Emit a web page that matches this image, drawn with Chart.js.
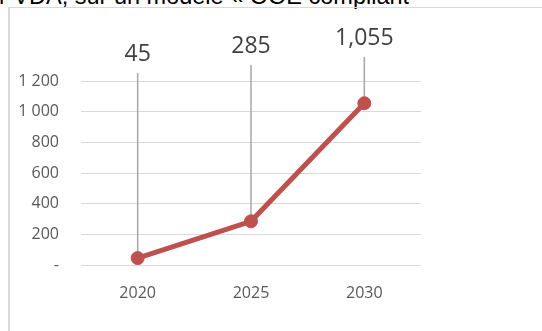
<!DOCTYPE html>
<html>
<head>
<meta charset="utf-8">
<script src="https://cdn.jsdelivr.net/npm/chart.js@4"></script>
<style>
  html, body { margin: 0; padding: 0; background: #fff; }
  body { width: 542px; height: 331px; position: relative; overflow: hidden; }
  #caption {
    position: absolute; left: -1px; top: -15px;
    font: 23.5px "Liberation Sans", Arial, sans-serif; line-height: 23.5px;
    color: #000; white-space: nowrap;
  }
  #box {
    position: absolute; left: 8px; top: 7px; width: 540px; height: 330px;
    border-left: 2px solid #d9d9d9; border-top: 1px solid #d9d9d9;
  }
  canvas { display: block; }
</style>
</head>
<body>
<div id="caption">r VDA, sur un modèle « OOE compliant</div>
<div id="box"><canvas id="chart" width="532" height="323"></canvas></div>
<script>
// données
const years = ["2020", "2025", "2030"];
const values = [45, 285, 1055];
const yTicks = [0, 200, 400, 600, 800, 1000, 1200];

// étiquettes déplacées au-dessus du graphique avec trait de rappel
const leaderLabels = {
  id: "leaderLabels",
  beforeDatasetsDraw(chart, args, opts) {
    const ctx = chart.ctx;
    const pts = chart.getDatasetMeta(0).data;
    ctx.save();
    ctx.strokeStyle = opts.lineColor;
    ctx.lineWidth = 1.5;
    pts.forEach((p, i) => {
      ctx.beginPath();
      ctx.moveTo(p.x, opts.labelY[i] + opts.gap);
      ctx.lineTo(p.x, p.y);
      ctx.stroke();
    });
    ctx.restore();
  },
  afterDatasetsDraw(chart, args, opts) {
    const ctx = chart.ctx;
    const pts = chart.getDatasetMeta(0).data;
    ctx.save();
    ctx.font = opts.font;
    ctx.fillStyle = opts.color;
    ctx.textAlign = "center";
    ctx.textBaseline = "middle";
    pts.forEach((p, i) => {
      ctx.fillText(values[i].toLocaleString("en-US"), p.x, opts.labelY[i]);
    });
    ctx.restore();
  }
};

new Chart(document.getElementById("chart"), {
  type: "line",
  data: {
    labels: years,
    datasets: [{
      data: values,
      borderColor: "#c0504d",
      backgroundColor: "#c0504d",
      borderWidth: 5,
      pointRadius: 6.5,
      pointBorderWidth: 1,
      tension: 0
    }]
  },
  options: {
    responsive: false,
    animation: false,
    layout: { padding: { left: 0, right: 121, top: 73, bottom: 26 } },
    plugins: {
      legend: { display: false },
      tooltip: { enabled: false },
      leaderLabels: {
        labelY: [46, 38, 30],
        gap: 19,
        font: "23px 'Open Sans'",
        color: "#404040",
        lineColor: "#a6a6a6"
      }
    },
    scales: {
      x: {
        offset: true,
        grid: { display: false, drawTicks: false },
        border: { display: false },
        ticks: { color: "#595959", font: { family: "Open Sans", size: 16 }, padding: 19 },
        afterFit: s => { s.height = 40; }
      },
      y: {
        min: 0,
        max: 1200,
        afterBuildTicks: s => { s.ticks = yTicks.map(v => ({ value: v })); },
        grid: { color: "#d9d9d9", lineWidth: 1, drawTicks: false },
        border: { display: false },
        ticks: {
          color: "#595959",
          font: { family: "Open Sans", size: 16 },
          padding: 22,
          callback: v => v === 0 ? "-" : v.toLocaleString("en-US").replace(",", " ")
        },
        afterFit: s => { s.width = 71; }
      }
    }
  },
  plugins: [leaderLabels]
});
</script>
</body>
</html>
